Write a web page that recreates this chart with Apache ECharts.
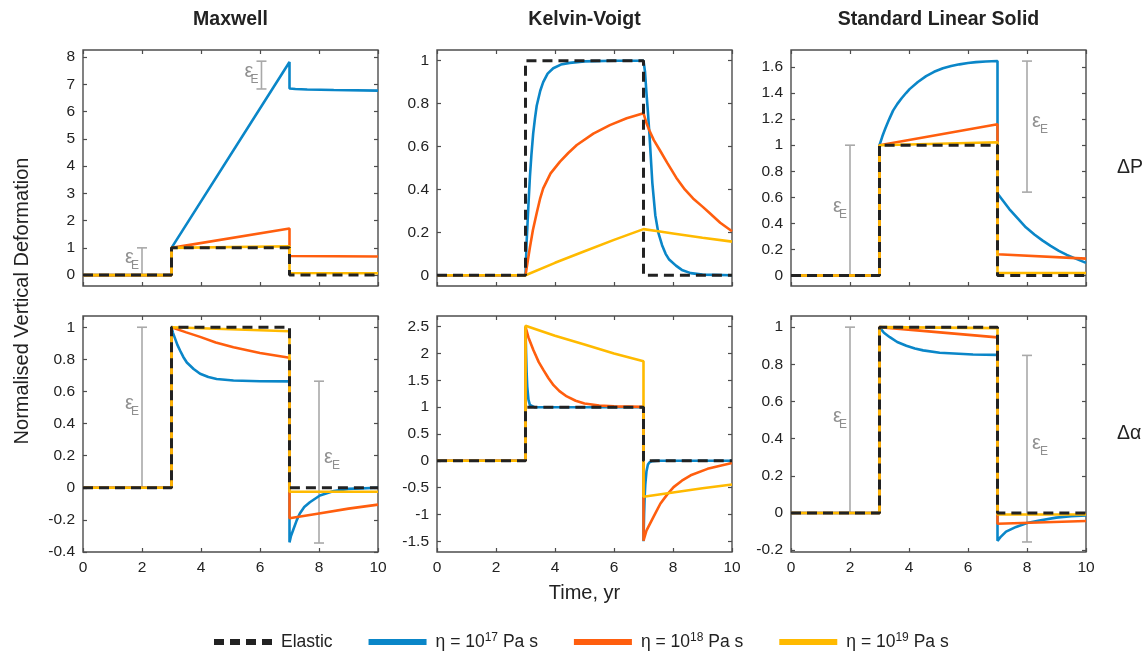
<!DOCTYPE html>
<html><head><meta charset="utf-8">
<script src="https://cdn.jsdelivr.net/npm/echarts@6/dist/echarts.min.js"></script>
<style>html,body{margin:0;padding:0;background:#fff}#c{width:1146px;height:651px}</style>
</head><body><div id="c"></div>
<script>
// ---------------- data ----------------
const panelTitles = ['Maxwell', 'Kelvin-Voigt', 'Standard Linear Solid'];
const rowLabels = ['ΔP', 'Δα'];
const seriesNames = ['Elastic', 'η = 10^17 Pa s', 'η = 10^18 Pa s', 'η = 10^19 Pa s'];
const xTicks = [0, 2, 4, 6, 8, 10];

const elasticStep = [[0,0],[3,0],[3,1],[7,1],[7,0],[10,0]];

// Maxwell, ΔP
const mxP_17 = [[0,0],[3,0],[3,1],[7,7.82],[7,6.85],[7.2,6.83],[7.6,6.81],[8.5,6.79],[10,6.77]];
const mxP_18 = [[0,0],[3,0],[3,1],[7,1.71],[7,0.70],[8.5,0.69],[10,0.68]];
const mxP_19 = [[0,0],[3,0],[3,1],[7,1.06],[7,0.075],[10,0.07]];
const mxP_yTicks = [0,1,2,3,4,5,6,7,8];
const mxP_yRange = [-0.4, 8.26];
const mxP_bars = [[2,0,1],[6.05,6.83,7.85]];
const mxP_labelSide = ['left','left'];

// Kelvin-Voigt, ΔP
const kvP_17 = [[0,0],[3,0],[3.04,0.16],[3.1,0.33],[3.15,0.46],[3.2,0.56],[3.26,0.66],[3.32,0.73],[3.38,0.79],[3.5,0.86],[3.6,0.9],[3.75,0.94],[3.94,0.965],[4.2,0.982],[4.5,0.99],[5,0.997],[6,1],[7,1],[7.05,0.95],[7.1,0.85],[7.15,0.76],[7.2,0.66],[7.3,0.43],[7.4,0.28],[7.5,0.2],[7.63,0.14],[7.75,0.1],[7.86,0.075],[8.1,0.045],[8.3,0.025],[8.6,0.01],[9,0.003],[10,0]];
const kvP_18 = [[0,0],[3,0],[3.08,0.07],[3.15,0.13],[3.25,0.21],[3.38,0.29],[3.5,0.36],[3.6,0.405],[3.85,0.475],[4.17,0.53],[4.45,0.57],[4.74,0.607],[5.3,0.66],[5.86,0.70],[6.43,0.732],[7,0.755],[7.1,0.71],[7.2,0.675],[7.35,0.63],[7.55,0.584],[7.8,0.525],[8.11,0.455],[8.4,0.40],[8.68,0.358],[9,0.32],[9.24,0.29],[9.6,0.245],[10,0.205]];
const kvP_19 = [[0,0],[3,0],[4,0.058],[5,0.112],[6,0.165],[7,0.215],[7.5,0.205],[8,0.195],[9,0.175],[10,0.157]];
const kvP_yTicks = [0,0.2,0.4,0.6,0.8,1];
const kvP_yRange = [-0.05, 1.05];

// Standard Linear Solid, ΔP
const slsP_17 = [[0,0],[3,0],[3,1],[3.1,1.07],[3.2,1.13],[3.33,1.2],[3.46,1.265],[3.6,1.315],[3.75,1.36],[3.9,1.4],[4.02,1.43],[4.3,1.485],[4.58,1.53],[4.85,1.563],[5.15,1.59],[5.43,1.607],[5.71,1.62],[6.0,1.63],[6.27,1.637],[6.6,1.642],[7,1.646],[7,0.63],[7.2,0.57],[7.4,0.51],[7.7,0.435],[7.96,0.37],[8.25,0.315],[8.52,0.27],[8.8,0.228],[9.08,0.19],[9.35,0.158],[9.65,0.13],[10,0.097]];
const slsP_18 = [[0,0],[3,0],[3,1],[7,1.16],[7,0.163],[10,0.13]];
const slsP_19 = [[0,0],[3,0],[3,1],[7,1.022],[7,0.02],[10,0.02]];
const slsP_yTicks = [0,0.2,0.4,0.6,0.8,1,1.2,1.4,1.6];
const slsP_yRange = [-0.08, 1.73];
const slsP_bars = [[2,0,1],[8,0.64,1.645]];
const slsP_labelSide = ['left','right'];

// Maxwell, Δα
const mxA_17 = [[0,0],[3,0],[3,1],[3.05,0.965],[3.1,0.94],[3.2,0.89],[3.29,0.855],[3.4,0.815],[3.52,0.78],[3.75,0.74],[3.97,0.71],[4.25,0.69],[4.53,0.678],[5.1,0.668],[6,0.664],[7,0.663],[7,-0.34],[7.05,-0.3],[7.13,-0.26],[7.25,-0.2],[7.35,-0.16],[7.5,-0.12],[7.69,-0.09],[8.03,-0.048],[8.5,-0.02],[9,-0.007],[10,0]];
const mxA_18 = [[0,0],[3,0],[3,1],[3.5,0.968],[3.97,0.94],[4.5,0.905],[5.1,0.875],[6,0.84],[7,0.81],[7,-0.19],[8,-0.16],[9,-0.13],[10,-0.105]];
const mxA_19 = [[0,0],[3,0],[3,1],[7,0.975],[7,-0.025],[10,-0.025]];
const mxA_yTicks = [-0.4,-0.2,0,0.2,0.4,0.6,0.8,1];
const mxA_yRange = [-0.4, 1.07];
const mxA_bars = [[2,0,1],[8,-0.344,0.664]];
const mxA_labelSide = ['left','right'];

// Kelvin-Voigt, Δα
const kvA_17 = [[0,0],[3,0],[3,2.5],[3.02,2.0],[3.04,1.62],[3.06,1.38],[3.1,1.14],[3.15,1.04],[3.2,1.012],[3.3,1.0],[7,1],[7,-1.5],[7.02,-1.0],[7.04,-0.66],[7.06,-0.45],[7.1,-0.2],[7.15,-0.07],[7.2,-0.03],[7.3,-0.005],[7.5,0],[10,0]];
const kvA_18 = [[0,0],[3,0],[3,2.5],[3.1,2.3],[3.27,2.06],[3.45,1.84],[3.61,1.69],[3.78,1.54],[3.95,1.41],[4.15,1.3],[4.4,1.2],[4.7,1.12],[5,1.07],[5.5,1.03],[6,1.015],[7,1.005],[7,-1.49],[7.1,-1.3],[7.23,-1.16],[7.4,-0.98],[7.57,-0.80],[7.8,-0.63],[8.02,-0.49],[8.3,-0.37],[8.6,-0.27],[9.17,-0.15],[9.6,-0.09],[10,-0.04]];
const kvA_19 = [[0,0],[3,0],[3,2.52],[4,2.33],[5,2.17],[6,2.0],[7,1.855],[7,-0.67],[8,-0.59],[9,-0.51],[10,-0.44]];
const kvA_yTicks = [-1.5,-1,-0.5,0,0.5,1,1.5,2,2.5];
const kvA_yRange = [-1.7, 2.7];

// Standard Linear Solid, Δα
const slsA_17 = [[0,0],[3,0],[3,1],[3.15,0.97],[3.35,0.946],[3.6,0.92],[3.91,0.90],[4.2,0.885],[4.48,0.875],[5.04,0.862],[6.17,0.853],[7,0.851],[7,-0.15],[7.1,-0.13],[7.29,-0.10],[7.63,-0.075],[8,-0.054],[8.42,-0.04],[8.99,-0.025],[9.5,-0.018],[10,-0.013]];
const slsA_18 = [[0,0],[3,0],[3,1],[7,0.945],[7,-0.058],[10,-0.043]];
const slsA_19 = [[0,0],[3,0],[3,1],[7,0.995],[7,-0.008],[10,-0.008]];
const slsA_yTicks = [-0.2,0,0.2,0.4,0.6,0.8,1];
const slsA_yRange = [-0.21, 1.06];
const slsA_bars = [[2,0,1],[8,-0.156,0.848]];
const slsA_labelSide = ['left','right'];

// ---------------- styling / layout ----------------
const FONT = '"Liberation Sans", Arial, Helvetica, sans-serif';
const TXT = '#222222';
const AXC = '#4d4d4d';
const COLORS = ['#222222', '#0a86c8', '#ff5e0e', '#ffba00'];
const GREY_BAR = '#a9a9a9';
const GREY_TXT = '#8f8f8f';
const colLeft = [83, 437, 791];
const rowTop = [50, 316];
const PW = 295, PH = 236;

const panels = [
  {r:0, c:0, lines:[mxP_17, mxP_18, mxP_19], yt:mxP_yTicks, yr:mxP_yRange, bars:mxP_bars, sides:mxP_labelSide},
  {r:0, c:1, lines:[kvP_17, kvP_18, kvP_19], yt:kvP_yTicks, yr:kvP_yRange, bars:null, sides:null},
  {r:0, c:2, lines:[slsP_17, slsP_18, slsP_19], yt:slsP_yTicks, yr:slsP_yRange, bars:slsP_bars, sides:slsP_labelSide},
  {r:1, c:0, lines:[mxA_17, mxA_18, mxA_19], yt:mxA_yTicks, yr:mxA_yRange, bars:mxA_bars, sides:mxA_labelSide},
  {r:1, c:1, lines:[kvA_17, kvA_18, kvA_19], yt:kvA_yTicks, yr:kvA_yRange, bars:null, sides:null},
  {r:1, c:2, lines:[slsA_17, slsA_18, slsA_19], yt:slsA_yTicks, yr:slsA_yRange, bars:slsA_bars, sides:slsA_labelSide}
];

const grid = [], xAxis = [], yAxis = [], series = [];
const tickStyle = {inside:true, length:4, lineStyle:{color:AXC, width:1.2}};
const labelStyle = {fontSize:15.5, color:TXT, fontFamily:FONT};

function errorBarRender(sides) {
  return function (params, api) {
    const x = api.value(0), lo = api.value(1), hi = api.value(2);
    const p1 = api.coord([x, lo]), p2 = api.coord([x, hi]);
    const cap = 5, mid = (p1[1] + p2[1]) / 2;
    const side = sides[params.dataIndex];
    const ls = {stroke: GREY_BAR, lineWidth: 1.6};
    const eps = side === 'left'
      ? {x: p1[0] - 8, y: mid - 4, align: 'right'}
      : {x: p1[0] + 5, y: mid - 5, align: 'left'};
    const sub = side === 'left'
      ? {x: p1[0] - 3, y: mid + 4.5, align: 'right'}
      : {x: p1[0] + 13, y: mid + 3.5, align: 'left'};
    return {type: 'group', children: [
      {type: 'line', shape: {x1: p1[0], y1: p1[1], x2: p2[0], y2: p2[1]}, style: ls},
      {type: 'line', shape: {x1: p2[0] - cap, y1: p2[1], x2: p2[0] + cap, y2: p2[1]}, style: ls},
      {type: 'line', shape: {x1: p1[0] - cap, y1: p1[1], x2: p1[0] + cap, y2: p1[1]}, style: ls},
      {type: 'text', x: eps.x, y: eps.y, style: {text: 'ε', fontSize: 20, fontFamily: FONT, fill: GREY_TXT, align: eps.align, textAlign: eps.align, verticalAlign: 'middle', textVerticalAlign: 'middle'}},
      {type: 'text', x: sub.x, y: sub.y, style: {text: 'E', fontSize: 12, fontFamily: FONT, fill: GREY_TXT, align: sub.align, textAlign: sub.align, verticalAlign: 'middle', textVerticalAlign: 'middle'}}
    ]};
  };
}

panels.forEach(function (p, i) {
  grid.push({left: colLeft[p.c], top: rowTop[p.r], width: PW, height: PH, show: true,
    borderColor: AXC, borderWidth: 1.4, backgroundColor: 'transparent'});
  const xBase = {type: 'value', gridIndex: i, min: 0, max: 10, interval: 2,
    axisLine: {show: false, onZero: false}, splitLine: {show: false}, axisTick: tickStyle};
  xAxis.push(Object.assign({}, xBase, {position: 'bottom',
    axisLabel: Object.assign({show: p.r === 1, margin: 8}, labelStyle)}));
  xAxis.push(Object.assign({}, xBase, {position: 'top', axisLabel: {show: false}}));
  const yBase = {type: 'value', gridIndex: i, min: p.yr[0], max: p.yr[1],
    axisLine: {show: false, onZero: false}, splitLine: {show: false},
    axisTick: Object.assign({customValues: p.yt}, tickStyle)};
  yAxis.push(Object.assign({}, yBase, {position: 'left',
    axisLabel: Object.assign({customValues: p.yt, margin: 8}, labelStyle)}));
  yAxis.push(Object.assign({}, yBase, {position: 'right', axisLabel: {show: false}}));

  if (p.bars) {
    series.push({type: 'custom', name: 'εE', xAxisIndex: 2 * i, yAxisIndex: 2 * i,
      data: p.bars, renderItem: errorBarRender(p.sides), silent: true, z: 1});
  }
  [1, 2, 3].forEach(function (k) {
    series.push({type: 'line', name: seriesNames[k], xAxisIndex: 2 * i, yAxisIndex: 2 * i,
      data: p.lines[k - 1], symbol: 'none', showSymbol: false, smooth: false,
      lineStyle: {color: COLORS[k], width: 2.6}, itemStyle: {color: COLORS[k]}, z: 2});
  });
  series.push({type: 'line', name: seriesNames[0], xAxisIndex: 2 * i, yAxisIndex: 2 * i,
    data: elasticStep, symbol: 'none', showSymbol: false,
    lineStyle: {color: COLORS[0], width: 3, type: [10, 6]}, itemStyle: {color: COLORS[0]}, z: 3});
});

const graphic = [];
panelTitles.forEach(function (t, c) {
  graphic.push({type: 'text', x: colLeft[c] + PW / 2, y: 20,
    style: {text: t, font: 'bold 19.5px ' + FONT, fill: TXT, align: 'center', textAlign: 'center',
      verticalAlign: 'middle', textVerticalAlign: 'middle'}});
});
rowLabels.forEach(function (t, r) {
  graphic.push({type: 'text', x: 1117, y: rowTop[r] + 118,
    style: {text: t, font: '19.5px ' + FONT, fill: TXT, align: 'left', textAlign: 'left',
      verticalAlign: 'middle', textVerticalAlign: 'middle'}});
});
graphic.push({type: 'text', x: 22, y: 301, rotation: Math.PI / 2,
  style: {text: 'Normalised Vertical Deformation', font: '20px ' + FONT, fill: TXT, align: 'center', textAlign: 'center',
    verticalAlign: 'middle', textVerticalAlign: 'middle'}});
graphic.push({type: 'text', x: colLeft[1] + PW / 2, y: 593,
  style: {text: 'Time, yr', font: '20px ' + FONT, fill: TXT, align: 'center', textAlign: 'center',
    verticalAlign: 'middle', textVerticalAlign: 'middle'}});

const option = {
  animation: false,
  backgroundColor: '#ffffff',
  grid: grid, xAxis: xAxis, yAxis: yAxis, series: series, graphic: graphic,
  legend: {
    data: seriesNames, left: 206, top: 627, itemWidth: 58, itemHeight: 16, itemGap: 33,
    lineStyle: {width: 6},
    itemStyle: {opacity: 0, color: 'rgba(0,0,0,0)', borderWidth: 0},
    textStyle: {fontSize: 17.5, color: TXT, fontFamily: FONT, padding: [0, 0, 0, 4],
      rich: {n: {fontSize: 17.5, color: TXT, fontFamily: FONT},
             s: {fontSize: 12, color: TXT, fontFamily: FONT, padding: [0, 0, 8, 0]}}},
    formatter: function (name) {
      const i = name.indexOf('^');
      if (i < 0) return '{n|' + name + '}';
      const head = name.slice(0, i), exp = name.slice(i + 1, i + 3), tail = name.slice(i + 3);
      return '{n|' + head + '}{s|' + exp + '}{n|' + tail + '}';
    }
  }
};
const chart = echarts.init(document.getElementById('c'), null, {renderer: 'canvas'});
chart.setOption(option);
</script>
</body></html>
